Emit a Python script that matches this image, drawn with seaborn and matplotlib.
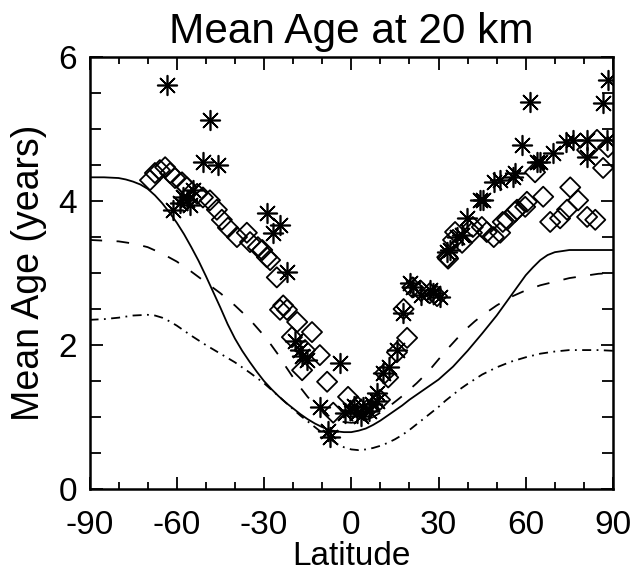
import numpy as np
import pandas as pd
import matplotlib
matplotlib.use("Agg")
import matplotlib.pyplot as plt
import seaborn as sns
from matplotlib.ticker import MultipleLocator

# ---- data ----
solid_lat = [-90, -85, -80, -77.5, -75, -72.5, -70, -67.5, -65, -62.5, -60, -57.5, -55, -52.5, -50, -47.5, -45,
             -42.5, -40, -37.5, -35, -32.5, -30, -27.5, -25, -22.5, -20, -17.5, -15, -12.5, -10, -7.5, -5, -2.5,
             0, 2.5, 5, 7.5, 10, 12.5, 15, 17.5, 20, 22.5, 25, 27.5, 30, 35, 40, 45, 50, 55, 60, 62.5, 65, 67.5,
             70, 75, 80, 85, 90]
solid_age = [4.33, 4.33, 4.32, 4.30, 4.27, 4.23, 4.17, 4.08, 3.97, 3.84, 3.70, 3.54, 3.36, 3.17, 2.96, 2.74, 2.52,
             2.29, 2.09, 1.92, 1.77, 1.63, 1.50, 1.39, 1.29, 1.20, 1.12, 1.04, 0.97, 0.91, 0.86, 0.82, 0.80, 0.79,
             0.79, 0.81, 0.84, 0.89, 0.95, 1.02, 1.09, 1.16, 1.24, 1.31, 1.38, 1.45, 1.52, 1.70, 1.92, 2.16, 2.41,
             2.69, 2.97, 3.08, 3.18, 3.25, 3.29, 3.32, 3.32, 3.32, 3.32]

dashed_lat = [-90, -85, -80, -75, -70, -65, -60, -55, -50, -45, -40, -35, -30, -27.5, -25, -22.5, -20, -17.5, -15,
              -12.5, -10, -7.5, -5, -2.5, 0, 2.5, 5, 7.5, 10, 12.5, 15, 17.5, 20, 22.5, 25, 27.5, 30, 32.5, 35,
              37.5, 40, 42.5, 45, 47.5, 50, 55, 60, 65, 70, 75, 80, 85, 90]
dashed_age = [3.46, 3.45, 3.44, 3.41, 3.36, 3.27, 3.16, 3.02, 2.87, 2.72, 2.55, 2.36, 2.13, 2.00, 1.86, 1.70, 1.55,
              1.41, 1.28, 1.17, 1.08, 1.01, 0.96, 0.93, 0.92, 0.93, 0.96, 1.00, 1.06, 1.13, 1.21, 1.29, 1.38, 1.47,
              1.57, 1.68, 1.80, 1.92, 2.03, 2.14, 2.24, 2.33, 2.41, 2.48, 2.55, 2.67, 2.76, 2.83, 2.88, 2.93, 2.96,
              2.99, 3.00]

dashdot_lat = [-90, -85, -80, -75, -70, -67.5, -65, -62.5, -60, -57.5, -55, -50, -45, -40, -35, -30, -25, -20,
               -17.5, -15, -12.5, -10, -7.5, -5, -2.5, 0, 2.5, 5, 7.5, 10, 12.5, 15, 17.5, 20, 22.5, 25, 27.5, 30,
               32.5, 35, 37.5, 40, 45, 50, 55, 60, 65, 70, 75, 80, 85, 90]
dashdot_age = [2.35, 2.36, 2.38, 2.41, 2.42, 2.41, 2.38, 2.33, 2.27, 2.20, 2.13, 2.00, 1.88, 1.76, 1.62, 1.47, 1.29,
               1.11, 1.02, 0.94, 0.86, 0.78, 0.70, 0.63, 0.58, 0.55, 0.54, 0.55, 0.57, 0.60, 0.64, 0.69, 0.75, 0.82,
               0.90, 0.98, 1.06, 1.14, 1.23, 1.31, 1.39, 1.46, 1.59, 1.69, 1.77, 1.83, 1.88, 1.91, 1.93, 1.93, 1.93,
               1.92]

star_lat = [-63.4, -48.6, -50.9, -45.8, -54.4, -56.5, -57.8, -55.5, -61.3, -59.0, -29.0, -24.5, -26.8, -22.0,
            -19.5, -17.0, -17.6, -15.2, -3.9, -10.8, -7.3, -8.0, -2.0, -0.4, 1.0, 2.0, 3.5, 4.2, 6.0, 7.0, 8.8, 9.0,
            11.0, 13.0, 15.7, 17.8, 20.3, 21.3, 24.0, 27.1, 28.2, 30.5, 33.0, 34.0, 36.4, 38.0, 39.8, 44.3, 45.4,
            49.0, 51.2, 55.7, 56.4, 58.7, 61.5, 63.9, 65.0, 69.4, 74.0, 76.3, 81.0, 81.0, 86.6, 88.3, 88.0]
star_age = [5.61, 5.12, 4.54, 4.50, 4.15, 4.01, 4.06, 3.94, 3.88, 3.98, 3.83, 3.67, 3.55, 3.01,
            2.05, 1.85, 1.93, 1.79, 1.75, 1.14, 0.72, 0.80, 1.05, 1.10, 1.15, 1.05, 1.02, 1.14, 1.08, 1.18, 1.33, 1.22,
            1.61, 1.70, 1.93, 2.44, 2.86, 2.80, 2.70, 2.76, 2.72, 2.67, 3.29, 3.32, 3.50, 3.53, 3.77, 4.01, 4.01,
            4.26, 4.29, 4.33, 4.39, 4.78, 5.38, 4.54, 4.54, 4.67, 4.82, 4.85, 4.85, 4.61, 5.36, 5.68, 4.85]

diamond_lat = [-69.2, -67.5, -65.8, -64.0, -62.3, -60.6, -58.2, -56.5, -53.0, -51.0, -48.6, -46.2, -44.5, -42.4,
               -39.3, -35.9, -34.8, -32.1, -30.6, -29.0, -27.9, -25.6, -24.5, -23.4, -22.1, -18.6, -13.5, -20.4,
               -15.9, -10.8, -16.9, -8.3, -1.1, -6.2, 2.0, 5.5, 9.9, 11.6, 12.7, 15.7, 18.0, 19.2, 21.0, 24.0,
               27.0, 29.5, 33.3, 33.0, 35.0, 35.7, 38.1, 41.5, 41.8, 44.9, 46.6, 49.0, 51.2, 52.1, 53.6, 56.3,
               57.0, 59.8, 60.4, 63.2, 66.0, 68.4, 71.8, 74.2, 75.3, 78.0, 81.1, 83.9, 81.1, 84.5, 86.6, 88.3]
diamond_age = [4.29, 4.39, 4.43, 4.47, 4.39, 4.32, 4.26, 4.19, 4.10, 4.05, 4.01, 3.88, 3.74, 3.63,
               3.50, 3.56, 3.43, 3.36, 3.32, 3.22, 3.18, 2.94, 2.49, 2.55, 2.49, 2.32, 2.18, 2.11,
               1.93, 1.86, 1.65, 1.49, 1.28, 1.06, 1.15, 1.10, 1.24, 1.61, 1.55, 1.90, 2.50, 2.10, 2.80, 2.75,
               2.72, 2.68, 3.20, 3.22, 3.46, 3.57, 3.42, 3.56, 3.64, 3.64, 3.57, 3.50, 3.56, 3.71, 3.74, 3.85,
               3.88, 3.92, 3.99, 4.40, 4.06, 3.71, 3.76, 3.88, 4.19, 4.01, 3.78, 3.74, 4.71, 4.85, 4.46, 4.75]

x_ticks = [-90, -60, -30, 0, 30, 60, 90]
y_ticks = [0, 2, 4, 6]

# ---- style ----
sns.set_style("ticks")
plt.rcParams['font.family'] = ['Liberation Sans', 'DejaVu Sans']
plt.rcParams['axes.unicode_minus'] = False
for k in ['text.color', 'axes.labelcolor', 'xtick.color', 'ytick.color', 'axes.edgecolor']:
    plt.rcParams[k] = 'black'

fig = plt.figure(figsize=(6.33, 5.71), dpi=100)
ax = fig.add_axes([0.1414, 0.1436, 0.9684 - 0.1414, 0.900 - 0.1436])

solid_df = pd.DataFrame({"lat": solid_lat, "age": solid_age})
dashed_df = pd.DataFrame({"lat": dashed_lat, "age": dashed_age})
dashdot_df = pd.DataFrame({"lat": dashdot_lat, "age": dashdot_age})
sns.lineplot(data=solid_df, x="lat", y="age", ax=ax, color="black", lw=1.3)
sns.lineplot(data=dashed_df, x="lat", y="age", ax=ax, color="black", lw=1.3)
ax.lines[-1].set_dashes((7, 8))
sns.lineplot(data=dashdot_df, x="lat", y="age", ax=ax, color="black", lw=1.3)
ax.lines[-1].set_dashes((5, 3, 1, 3))

stars = pd.DataFrame({"lat": star_lat, "age": star_age})
diam = pd.DataFrame({"lat": diamond_lat, "age": diamond_age})
sns.scatterplot(data=diam, x="lat", y="age", ax=ax, marker="D", s=105,
                facecolor="none", edgecolor="black", linewidth=1.3)
sns.scatterplot(data=stars, x="lat", y="age", ax=ax, marker=(8, 2, 0), s=200,
                color="black", edgecolor="black", linewidth=1.2)

ax.set_xlim(-90, 90)
ax.set_ylim(0, 6)
ax.set_xticks(x_ticks)
ax.set_yticks(y_ticks)
ax.xaxis.set_minor_locator(MultipleLocator(10))
ax.yaxis.set_minor_locator(MultipleLocator(0.5))
ax.tick_params(which="both", direction="in", top=True, right=True, width=1.3, labelsize=24)
ax.tick_params(axis="x", which="both", pad=15)
ax.tick_params(axis="y", which="both", pad=9)
ax.tick_params(which="major", length=9)
ax.tick_params(which="minor", length=5)
ax.tick_params(axis="y", which="minor", length=8)
for sp in ax.spines.values():
    sp.set_linewidth(1.8)
    sp.set_visible(True)

ax.set_xlabel("Latitude", fontsize=24, labelpad=0)
ax.set_ylabel("Mean Age (years)", fontsize=27, labelpad=8)
ax.set_title("Mean Age at 20 km", fontsize=30.5, pad=10)

fig.savefig("out.png", dpi=100)
